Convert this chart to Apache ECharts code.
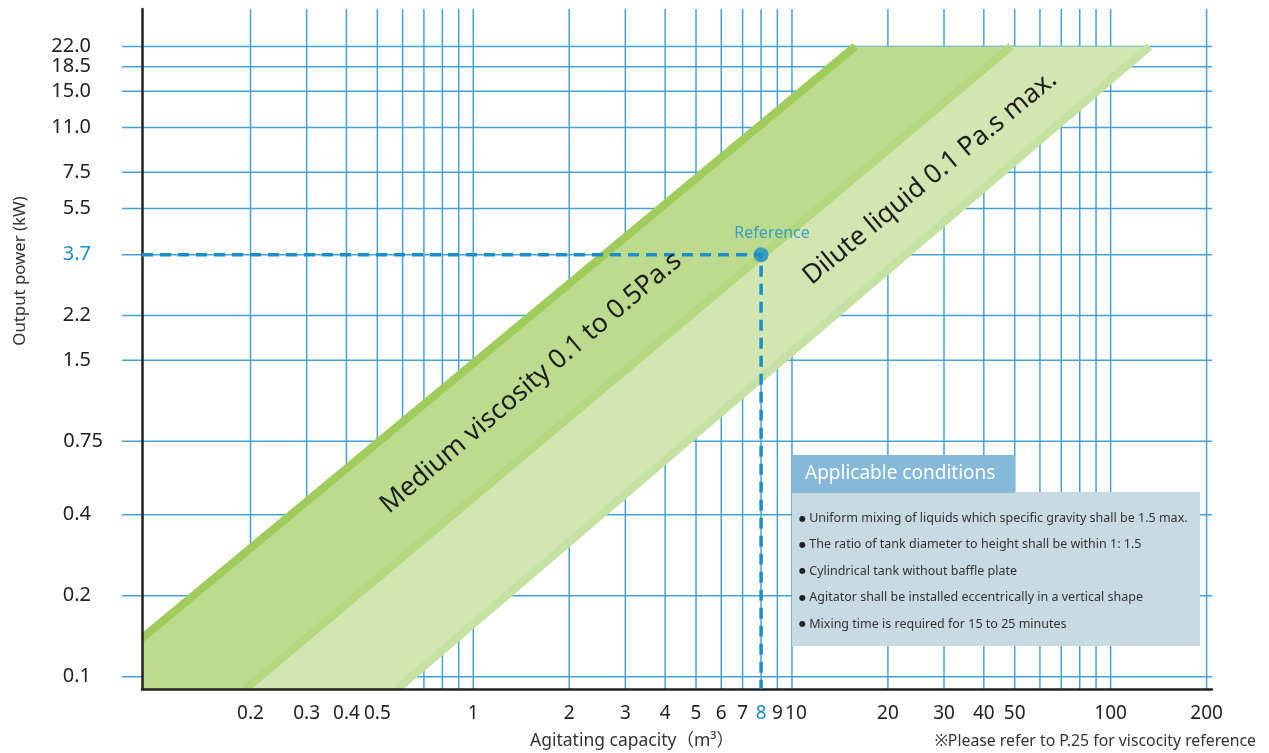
<!DOCTYPE html>
<html>
<head>
<meta charset="utf-8">
<title>Agitator selection chart</title>
<script src="https://cdn.jsdelivr.net/npm/echarts@6/dist/echarts.min.js"></script>
<style>
html, body { margin: 0; padding: 0; background: #fff; }
#chart { width: 1269px; height: 753px; }
</style>
</head>
<body>
<div id="chart"></div>
<script>
// axis extents: capacity (m3) and output power (kW)
var xMin = 0.0913, xMax = 208;
var yMin = 0.09, yMax = 30.3;

var xTickValues = [0.2, 0.3, 0.4, 0.5, 1, 2, 3, 4, 5, 6, 7, 8, 9, 10, 20, 30, 40, 50, 100, 200];
var xGridValues = [0.2, 0.3, 0.4, 0.5, 0.6, 0.7, 0.8, 0.9, 1, 2, 3, 4, 5, 6, 7, 8, 9, 10,
    20, 30, 40, 50, 60, 70, 80, 90, 100, 200];
var yTickValues = [0.1, 0.2, 0.4, 0.75, 1.5, 2.2, 3.7, 5.5, 7.5, 11, 15, 18.5, 22];
var yTickLabels = ['0.1', '0.2', '0.4', '0.75', '1.5', '2.2', '3.7', '5.5', '7.5', '11.0', '15.0', '18.5', '22.0'];

// band edges, [capacity, power]
var upperEdge = [[0.0913, 0.139], [15.8, 22]];
var middleEdge = [[0.1926, 0.09], [48.7, 22]];
var lowerEdge = [[0.577, 0.09], [132.5, 22]];

var refPoint = [8, 3.7];

var conditions = [
    'Uniform mixing of liquids which specific gravity shall be 1.5 max.',
    'The ratio of tank diameter to height shall be within 1: 1.5',
    'Cylindrical tank without baffle plate',
    'Agitator shall be installed eccentrically in a vertical shape',
    'Mixing time is required for 15 to 25 minutes'
];

var FONT = '"Noto Sans", "Noto Sans CJK JP", sans-serif';
var BLUE = '#1b8dc8';
var GRID = '#45a2d8';

function near(a, b) { return Math.abs(a - b) < 1e-6 * Math.max(1, b); }

function vGridItem(params, api) {
    var x = api.value(0);
    var p1 = api.coord([x, yMax]);
    var p2 = api.coord([x, yMin]);
    return {
        type: 'line',
        shape: { x1: p1[0], y1: p1[1], x2: p2[0], y2: p2[1] },
        style: { stroke: GRID, lineWidth: 1.5 }
    };
}

function hGridItem(params, api) {
    var y = api.value(1);
    var p1 = api.coord([xMin, y]);
    var p2 = api.coord([xMax, y]);
    return {
        type: 'line',
        shape: { x1: p1[0] - 20, y1: p1[1], x2: p2[0], y2: p2[1] },
        style: { stroke: GRID, lineWidth: 1.5 }
    };
}

function bandItem(params, api) {
    function pts(list) {
        return list.map(function (p) { return api.coord(p); });
    }
    var corner = [xMin, yMin];
    return {
        type: 'group',
        children: [
            {
                type: 'polygon',
                shape: { points: pts([upperEdge[0], upperEdge[1], middleEdge[1], middleEdge[0], corner]) },
                style: { fill: '#bcdb8f', blend: 'multiply' }
            },
            {
                type: 'polygon',
                shape: { points: pts([middleEdge[0], middleEdge[1], lowerEdge[1], lowerEdge[0]]) },
                style: { fill: '#d2e6b2', blend: 'multiply' }
            },
            { type: 'polyline', shape: { points: pts(lowerEdge) }, style: { stroke: '#c5e2a2', lineWidth: 8, fill: null } },
            { type: 'polyline', shape: { points: pts(middleEdge) }, style: { stroke: '#b3d880', lineWidth: 8, fill: null } },
            { type: 'polyline', shape: { points: pts(upperEdge) }, style: { stroke: '#9fcc5b', lineWidth: 8, fill: null } }
        ]
    };
}

var chart = echarts.init(document.getElementById('chart'));

var graphics = [
    {
        type: 'text', x: 20, y: 271, rotation: Math.PI / 2, z: 100,
        style: { text: 'Output power (kW)', font: '16.8px ' + FONT, fill: '#333', textAlign: 'center', textVerticalAlign: 'middle' }
    },
    {
        type: 'text', x: 632, y: 741, z: 100,
        style: { text: 'Agitating capacity（m³）', font: '17.5px ' + FONT, fill: '#333', textAlign: 'center', textVerticalAlign: 'middle' }
    },
    {
        type: 'text', x: 1256, y: 741, z: 100,
        style: { text: '※Please refer to P.25 for viscocity reference', font: '15.8px ' + FONT, fill: '#333', textAlign: 'right', textVerticalAlign: 'middle' }
    },
    {
        type: 'text', x: 531, y: 383, rotation: 40.5 * Math.PI / 180, z: 100,
        style: { text: 'Medium viscosity 0.1 to 0.5Pa.s', font: '26.5px ' + FONT, fill: '#1e1e1e', textAlign: 'center', textVerticalAlign: 'middle' }
    },
    {
        type: 'text', x: 930, y: 178, rotation: 39.5 * Math.PI / 180, z: 100,
        style: { text: 'Dilute liquid 0.1 Pa.s max.', font: '26.5px ' + FONT, fill: '#1e1e1e', textAlign: 'center', textVerticalAlign: 'middle' }
    },
    { type: 'rect', z: 100, shape: { x: 792, y: 492, width: 408, height: 154 }, style: { fill: '#c8dbe3' } },
    { type: 'rect', z: 101, shape: { x: 792, y: 455, width: 223, height: 38 }, style: { fill: '#86b8da' } },
    {
        type: 'text', x: 805, y: 474, z: 102,
        style: { text: 'Applicable conditions', font: '19px ' + FONT, fill: '#fff', textVerticalAlign: 'middle' }
    }
];
conditions.forEach(function (line, i) {
    graphics.push({
        type: 'text', x: 799, y: 518.5 + i * 26.4, z: 102,
        style: {
            text: '{b|●} ' + line,
            font: '12.5px ' + FONT, fill: '#333', textVerticalAlign: 'middle',
            rich: { b: { fontSize: 8, fill: '#222', fontFamily: 'DejaVu Sans' } }
        }
    });
});

var option = {
    backgroundColor: '#fff',
    animation: false,
    grid: { left: 142, right: 57, top: 9, bottom: 64, containLabel: false },
    xAxis: {
        type: 'log', logBase: 10, min: xMin, max: xMax, z: 5,
        axisLine: { show: true, onZero: false, lineStyle: { color: '#222', width: 2.5 } },
        axisTick: { show: false },
        splitLine: { show: false },
        axisLabel: {
            customValues: xTickValues,
            margin: 15, fontSize: 19, color: '#222', fontFamily: FONT,
            formatter: function (v) {
                var s = String(+(+v).toPrecision(6));
                if (near(v, refPoint[0])) return '{b|' + s + '}';
                if (near(v, 10)) return '{s|' + s + '}';
                return s;
            },
            rich: {
                b: { color: BLUE, fontSize: 19, fontFamily: FONT },
                s: { fontSize: 19, fontFamily: FONT, padding: [0, 0, 0, 8] }
            }
        }
    },
    yAxis: {
        type: 'log', logBase: 10, min: yMin, max: yMax, z: 5,
        axisLine: { show: true, onZero: false, lineStyle: { color: '#222', width: 2.5 } },
        axisTick: { show: false },
        splitLine: { show: false },
        axisLabel: {
            customValues: yTickValues,
            margin: 39, fontSize: 20, color: '#222', fontFamily: FONT,
            formatter: function (v) {
                var idx = 0;
                yTickValues.forEach(function (t, i) { if (near(v, t)) idx = i; });
                var s = yTickLabels[idx];
                if (near(v, refPoint[1])) return '{b|' + s + '}';
                if (s === '0.75') return '{w|' + s + '}';
                return '{n|' + s + '}';
            },
            rich: {
                n: { fontSize: 20, fontFamily: FONT, color: '#222', padding: [0, 12, 0, 0] },
                w: { fontSize: 20, fontFamily: FONT, color: '#222' },
                b: { fontSize: 20, fontFamily: FONT, color: BLUE, padding: [0, 12, 0, 0] }
            }
        }
    },
    graphic: graphics,
    series: [
        {
            type: 'custom', name: 'vgrid', renderItem: vGridItem, silent: true, z: 1,
            data: xGridValues.map(function (v) { return [v, yMin]; })
        },
        {
            type: 'custom', name: 'hgrid', renderItem: hGridItem, silent: true, z: 1,
            data: yTickValues.map(function (v) { return [xMin, v]; })
        },
        {
            type: 'custom', name: 'bands', renderItem: bandItem, silent: true, clip: true, z: 2,
            data: [[xMin, yMin]]
        },
        {
            type: 'line', name: 'reference guide', z: 6, symbol: 'none', silent: true,
            data: [[xMin, refPoint[1]], refPoint, [refPoint[0], yMin]],
            lineStyle: { color: BLUE, width: 3.5, type: [11, 7] }
        },
        {
            type: 'scatter', name: 'Reference', z: 7, symbolSize: 15, silent: true,
            itemStyle: { color: BLUE },
            data: [refPoint],
            label: {
                show: true, position: 'top', distance: 6, offset: [11, 0],
                formatter: 'Reference', color: BLUE, fontSize: 16, fontFamily: FONT
            }
        }
    ]
};

chart.setOption(option);
</script>
</body>
</html>
